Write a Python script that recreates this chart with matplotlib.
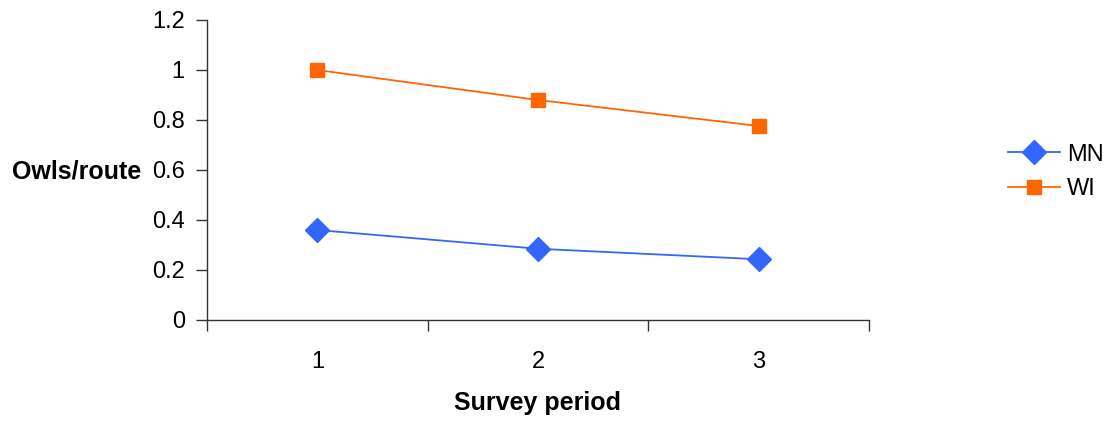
import matplotlib
matplotlib.use('Agg')
import matplotlib.pyplot as plt

plt.rcParams['font.family'] = ['Liberation Sans', 'DejaVu Sans']

periods = [1, 2, 3]
mn_owls = [0.36, 0.285, 0.243]
wi_owls = [1.0, 0.88, 0.776]
yticks = [0, 0.2, 0.4, 0.6, 0.8, 1, 1.2]
ytick_labels = ['0', '0.2', '0.4', '0.6', '0.8', '1', '1.2']

fig = plt.figure(figsize=(11.11, 4.21), dpi=100)
ax = fig.add_axes([207 / 1111, 101 / 421, 662 / 1111, 300 / 421])

ax.plot(periods, mn_owls, color='#3366FF', marker='D', markersize=12.5,
        linewidth=1.3, label='MN', clip_on=False)
ax.plot(periods, wi_owls, color='#FF6600', marker='s', markersize=10.5,
        linewidth=1.3, label='WI', clip_on=False)

ax.set_xlim(0.5, 3.5)
ax.set_ylim(0, 1.2)
ax.set_yticks(yticks)
ax.set_yticklabels(ytick_labels)

# category boundaries carry the tick marks, labels sit at centres
ax.set_xticks([0.5, 1.5, 2.5, 3.5])
ax.set_xticklabels([])
ax.set_xticks(periods, minor=True)
ax.set_xticklabels([str(p) for p in periods], minor=True)
ax.tick_params(axis='x', which='major', direction='out', length=8, width=1, color='#333333')
ax.tick_params(axis='x', which='minor', length=0, pad=22, labelsize=17)
ax.tick_params(axis='y', direction='out', length=8, width=1, color='#333333', pad=8, labelsize=17)

for side in ['top', 'right']:
    ax.spines[side].set_visible(False)
for side in ['left', 'bottom']:
    ax.spines[side].set_color('#333333')
    ax.spines[side].set_linewidth(1.0)

ax.set_ylabel('Owls/route', fontsize=18, fontweight='bold', rotation=0, ha='right', va='center')
ax.yaxis.set_label_coords(-0.099, 0.495)
ax.set_xlabel('Survey period', fontsize=18, fontweight='bold', va='center')
ax.xaxis.set_label_coords(0.5, -0.277)

ax.legend(loc='center left', bbox_to_anchor=(1008 / 1111, 249 / 421),
          bbox_transform=fig.transFigure, frameon=False, fontsize=17,
          handlelength=2.2, handletextpad=0.3, labelspacing=0.55,
          borderpad=0, borderaxespad=0)

fig.savefig('out.png', dpi=100)
